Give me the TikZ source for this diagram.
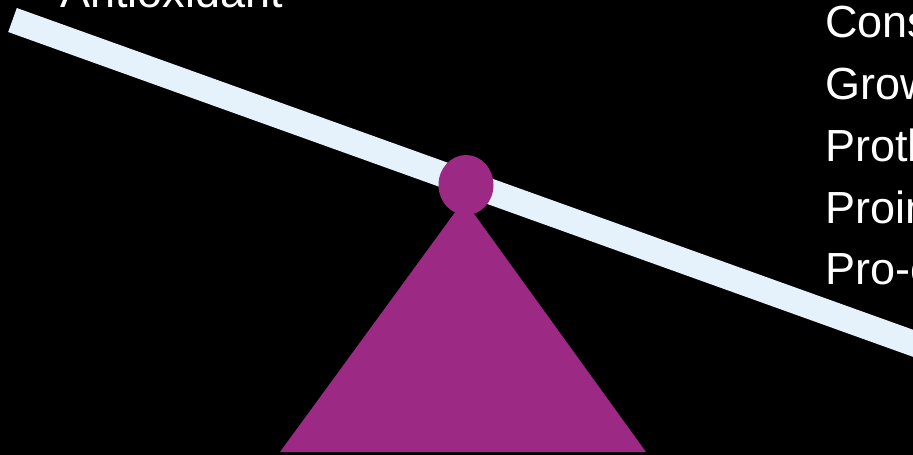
\documentclass[tikz,border=0pt]{standalone}
\usepackage{fontspec}
\setmainfont{Liberation Sans}
\usepackage{tikz}
\usetikzlibrary{positioning,shapes.geometric}
\definecolor{beamblue}{RGB}{229,241,251}
\definecolor{pivotpurple}{RGB}{156,42,133}

\begin{document}
\begin{tikzpicture}[x=1pt,y=-1pt,
  sidetext/.style={text=white,inner sep=0pt,anchor=base west,font=\fontsize{45}{54}\selectfont}]
% background and frame
\fill[black] (0,0) rectangle (913,455);
\useasboundingbox (0,0) rectangle (913,455);
\clip (0,0) rectangle (913,455);
% tilted beam
\draw[beamblue,line width=25.5pt,line cap=butt] (12.5,20) -- (1000,374.5);
% fulcrum
\fill[pivotpurple] (464,200) -- (280,452) -- (646,452) -- cycle;
\node[fill=pivotpurple,ellipse,minimum width=55pt,minimum height=60pt,inner sep=0pt] (pivot) at (466,185) {};
% left side
\node[sidetext] (anti) at (60,8) {Antioxidant};
% right side
\node[sidetext] (cons) at (825,37) {Constrictor};
\node[sidetext] (grow) at (825,99) {Growth promoter};
\node[sidetext] (proth) at (825,161) {Prothrombotic};
\node[sidetext] (proin) at (825,223) {Proinflammatory};
\node[sidetext] (proox) at (825,284) {Pro-oxidant};
\end{tikzpicture}
\end{document}
